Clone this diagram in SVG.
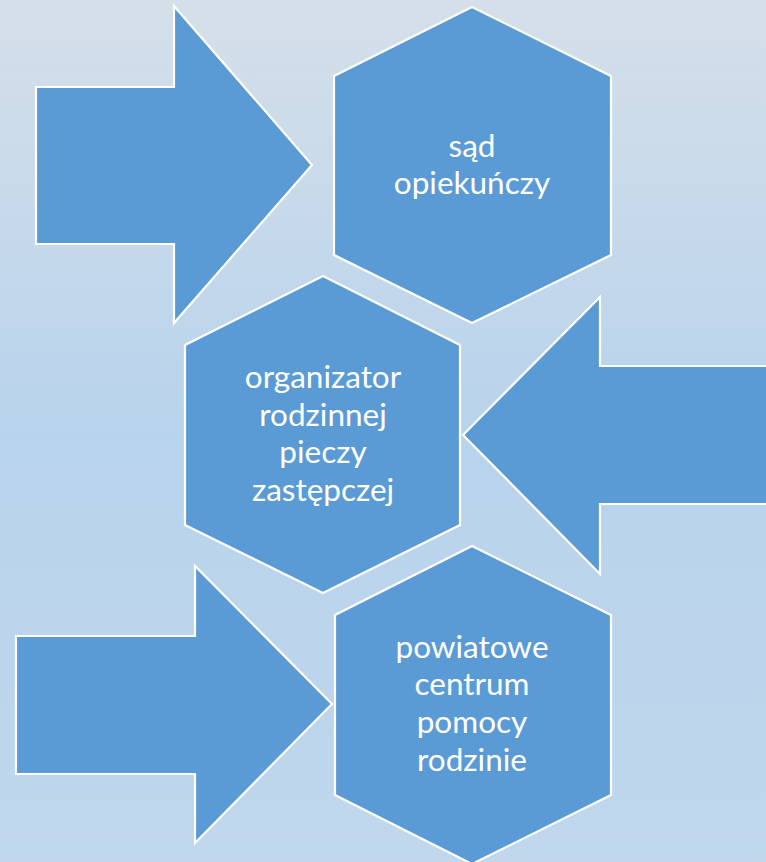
<svg xmlns="http://www.w3.org/2000/svg" width="766" height="862" viewBox="0 0 766 862">
<defs>
<linearGradient id="bg" x1="0" y1="0" x2="0" y2="1">
<stop offset="0" stop-color="#d5dfe9"/>
<stop offset="0.5" stop-color="#b8d3ec"/>
<stop offset="1" stop-color="#c0d7ec"/>
</linearGradient>
<style>
.shape{fill:#5b9bd5;stroke:#ffffff;stroke-width:2.2;stroke-linejoin:miter}
.lbl{fill:#ffffff;font-family:Lato,"Open Sans",sans-serif;font-size:31.5px;text-anchor:middle}
</style>
</defs>
<rect x="0" y="0" width="766" height="862" fill="url(#bg)"/>
<g id="arrows">
<g id="arrow1"><polygon class="shape" points="36,87 174,87 174,6 312,165 174,323 174,244 36,244"/></g>
<g id="arrow2"><polygon class="shape" points="770,366 600,366 600,297 463,435 600,574 600,504 770,504"/></g>
<g id="arrow3"><polygon class="shape" points="16,636 195,636 195,566 332,704 195,843 195,774 16,774"/></g>
</g>
<g id="node1">
<polygon class="shape" points="472,7 611,76 611,255 472,323 334,255 334,76"/>
<text class="lbl" x="472" y="157">sąd</text>
<text class="lbl" x="472" y="194">opiekuńczy</text>
</g>
<g id="node2">
<polygon class="shape" points="323,276 460,345 460,525 323,593 185,525 185,345"/>
<text class="lbl" x="323" y="388">organizator</text>
<text class="lbl" x="323" y="426">rodzinnej</text>
<text class="lbl" x="323" y="463">pieczy</text>
<text class="lbl" x="323" y="501">zastępczej</text>
</g>
<g id="node3">
<polygon class="shape" points="472,546 611,615 611,795 472,864 335,795 335,615"/>
<text class="lbl" x="472" y="658">powiatowe</text>
<text class="lbl" x="472" y="695">centrum</text>
<text class="lbl" x="472" y="733">pomocy</text>
<text class="lbl" x="472" y="771">rodzinie</text>
</g>
</svg>
